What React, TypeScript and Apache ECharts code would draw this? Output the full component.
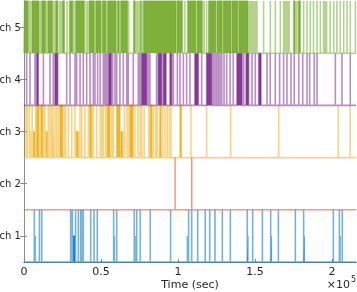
import React, { useEffect, useRef } from "react";
import * as echarts from "echarts";

// Time values are in kiloseconds (axis shows units of 1e5 s)
const channelNames = ["ch 1", "ch 2", "ch 3", "ch 4", "ch 5"];
const channelColors = ["#0072BD", "#D95319", "#EDB120", "#7E2F8E", "#77AC30"];
const xMax = 215.6;
const xTickValues = [0, 50, 100, 150, 200];
const xTickLabels = ["0", "0.5", "1", "1.5", "2"];
const yTickValues = [0.5, 1.5, 2.5, 3.5, 4.5];

// A pulse is a single spike (number), or [start, end] high period, or [start, end, level]
type Pulse = number | [number, number] | [number, number, number];

const ch1Pulses: Pulse[] = [
  6.7, [7.3, 7.3, 0.5], 10.0, 11.5, 30.3, 31.4, [32.0, 33.0, 0.5], 33.5, 35.3, 36.8, 37.4, 38.5,
  43.3, 45.5, 47.6, 58.2, [58.7, 58.7, 0.5], 60.2, 71.6, [72.1, 72.1, 0.5], 73.2, 75.5, 82.0, 95.2,
  [106.1, 106.1, 0.5], 106.9, 108.9, 112.8, 117.7, 120.6, 124.0, 128.8, 134.0, 145.0,
  [145.4, 145.4, 0.5], 148.5, 154.8, 160.2, [160.6, 160.6, 0.5], 165.2, 176.2, 181.6,
  [182.0, 182.0, 0.5], 200.9, 204.8, [205.3, 205.3, 0.5], 206.7,
];

const ch2Pulses: Pulse[] = [98.1, 108.9];

const ch3Pulses: Pulse[] = [
  1.3, 2.2, 3.5, [4.6, 4.6, 0.5], 5.3, [6.1, 7.1, 0.5], 7.6, [8.2, 9.6], 10.4, [11.0, 12.1], 12.8,
  13.6, [14.5, 15.2, 0.5], 15.8, 16.9, 18.0, [18.6, 19.0], 20.1, 21.2, 22.3, [23.4, 25.1], 26.2,
  27.0, 28.8, 31.0, 33.1, [34.0, 35.3, 0.5], 36.4, 37.5, 39.6, 41.8, [42.7, 43.9], 45.0, 47.2,
  49.4, 50.5, 51.5, 53.0, [54.1, 55.8], 57.0, 58.0, [60.2, 62.3], [62.8, 64.0, 0.5], 65.2, 66.9,
  68.0, [68.8, 70.8], 72.0, 74.0, 75.4, 76.5, 78.0, 81.0, [82.0, 83.0], 84.0, 85.5, 86.5, 88.0,
  [88.4, 88.9], 90.0, 91.6, 93.0, 94.3, 95.5, [101.3, 102.2], 108.4, 118.6, 134.2, 165.4, 204.1,
  211.8,
];

const ch4Pulses: Pulse[] = [
  1.7, 3.9, 7.1, [8.2, 9.3], 12.6, 16.9, 19.0, [20.1, 21.9], 27.7, 29.9, 33.1, 34.2, 36.4, 38.5,
  40.7, 42.9, 45.0, 46.1, 47.8, 49.4, 51.5, 52.2, 53.0, 54.0, [55.0, 56.7], 57.6, 59.1, 60.2,
  62.3, 64.5, 66.7, 67.7, 71.0, 74.2, 75.0, 75.8, [76.4, 79.7], 80.7, 81.8, 86.1, [87.2, 89.4],
  [90.5, 92.2], [94.8, 95.9], 97.0, 99.6, 101.3, 103.5, 105.6, 107.8, [111.0, 113.2], 115.4,
  [118.6, 121.9], 122.9, 124.0, 125.1, 126.2, 127.3, 128.4, 129.9, 131.6, 133.8, 135.9,
  [138.3, 141.6], 142.7, [144.2, 145.9], 148.1, 150.2, [152.4, 153.9], 157.8, 159.9, 163.2,
  166.0, 168.6, 170.8, 173.4, 175.5, 178.4, 181.0, 183.8, 185.5, 188.5, 190.3, 202.2, 206.5,
  211.9,
];

const ch5Pulses: Pulse[] = [
  [0.4, 2.8], 3.6, 4.4, [5.2, 9.8], 10.9, [11.5, 14.0], 14.8, [15.5, 18.5], 19.6, [20.6, 22.0],
  23.3, 24.2, [25.0, 26.2], 28.0, [29.6, 31.6], 32.5, [33.6, 39.2], 40.5, 41.2, [42.3, 45.6],
  [46.6, 50.0], [50.9, 53.2], [54.2, 59.8], [60.7, 61.9], [62.8, 67.3], 68.0, [71.2, 72.2], 72.9,
  73.6, 74.6, [75.6, 76.2], 76.9, [77.6, 98.8], [99.4, 102.8], 104.5, [106.3, 111.6],
  [112.4, 115.8], 117.0, 118.5, [119.9, 124.6], [125.4, 128.7], [129.4, 134.5], [135.1, 138.9],
  [139.5, 145.5], 146.3, 147.2, 148.0, 148.9, 149.8, 150.6, 151.3, 155.6, 160.0, 163.2, 166.5,
  168.6, 169.5, 170.4, 171.3, 172.2, [175.1, 176.0], 177.0, [178.2, 179.4], 181.6, 183.8, 185.9,
  188.0, 190.3, 192.5, 194.6, 195.5, 196.5, 198.8, 201.1, 203.2, 205.4, 207.6, 209.8, 211.9,
  215.2,
];

const allPulses = [ch1Pulses, ch2Pulses, ch3Pulses, ch4Pulses, ch5Pulses];

function buildLine(pulses: Pulse[], base: number): number[][] {
  const pts: number[][] = [[0, base]];
  for (const p of pulses) {
    let s: number, e: number, h: number;
    if (typeof p === "number") {
      s = p; e = p; h = 1;
    } else {
      s = p[0]; e = p[1]; h = p.length > 2 ? (p as number[])[2] : 1;
    }
    pts.push([s, base], [s, base + h], [e, base + h], [e, base]);
  }
  pts.push([xMax, base]);
  return pts;
}

const FONT = "DejaVu Sans";
const TEXT = "#262626";
const AXIS = "#8c8c8c";

export default function App() {
  const ref = useRef<HTMLDivElement>(null);
  useEffect(() => {
    if (!ref.current) return;
    const chart = echarts.init(ref.current, undefined, { renderer: "svg" });
    const series = allPulses.map((pulses, i) => ({
      type: "line",
      name: channelNames[i],
      data: buildLine(pulses, i),
      symbol: "none",
      showSymbol: false,
      clip: false,
      silent: true,
      z: 3 + i,
      lineStyle: { color: channelColors[i], width: 1.6, opacity: 0.55 },
      areaStyle: { color: channelColors[i], opacity: 0.95, origin: i },
    }));
    chart.setOption({
      animation: false,
      grid: { left: 24, right: 1, top: 1, bottom: 30, outerBoundsMode: "none", containLabel: false },
      xAxis: [
        {
          type: "value",
          position: "bottom",
          min: 0,
          max: xMax,
          name: "Time (sec)",
          nameLocation: "middle",
          nameGap: 17,
          nameMoveOverlap: false,
          nameTextStyle: { fontFamily: FONT, fontSize: 11, color: TEXT },
          axisLine: { show: true, lineStyle: { color: AXIS, width: 1 } },
          axisTick: { show: true, inside: true, length: 3, customValues: xTickValues, lineStyle: { color: AXIS } },
          axisLabel: {
            customValues: xTickValues,
            margin: 4,
            fontFamily: FONT,
            fontSize: 11,
            color: TEXT,
            formatter: (v: number) => xTickLabels[xTickValues.indexOf(v)] ?? "",
          },
          splitLine: { show: false },
        },
        {
          type: "value",
          position: "top",
          min: 0,
          max: xMax,
          axisLine: { show: true, lineStyle: { color: AXIS, width: 1 } },
          axisTick: { show: false },
          axisLabel: { show: false },
          splitLine: { show: false },
        },
      ],
      yAxis: [
        {
          type: "value",
          position: "left",
          min: 0,
          max: 5,
          axisLine: { show: true, lineStyle: { color: AXIS, width: 1 } },
          axisTick: { show: true, inside: true, length: 3, customValues: yTickValues, lineStyle: { color: AXIS } },
          axisLabel: {
            customValues: yTickValues,
            margin: 3,
            fontFamily: FONT,
            fontSize: 10,
            color: TEXT,
            formatter: (v: number) => channelNames[Math.round(v - 0.5)] ?? "",
          },
          splitLine: { show: false },
        },
        {
          type: "value",
          position: "right",
          min: 0,
          max: 5,
          axisLine: { show: true, lineStyle: { color: AXIS, width: 1 } },
          axisTick: { show: true, inside: true, length: 4, customValues: yTickValues, lineStyle: { color: AXIS } },
          axisLabel: { show: false },
          splitLine: { show: false },
        },
      ],
      graphic: [
        {
          type: "text",
          right: 7,
          top: 279,
          style: { text: "×10", fontFamily: FONT, fontSize: 11, fill: TEXT },
        },
        {
          type: "text",
          right: 1,
          top: 275,
          style: { text: "5", fontFamily: FONT, fontSize: 8, fill: TEXT },
        },
      ],
      series,
    });
    return () => chart.dispose();
  }, []);
  return (
    <div
      ref={ref}
      style={{ position: "fixed", left: 0, top: 0, width: 357, height: 292 }}
    />
  );
}
